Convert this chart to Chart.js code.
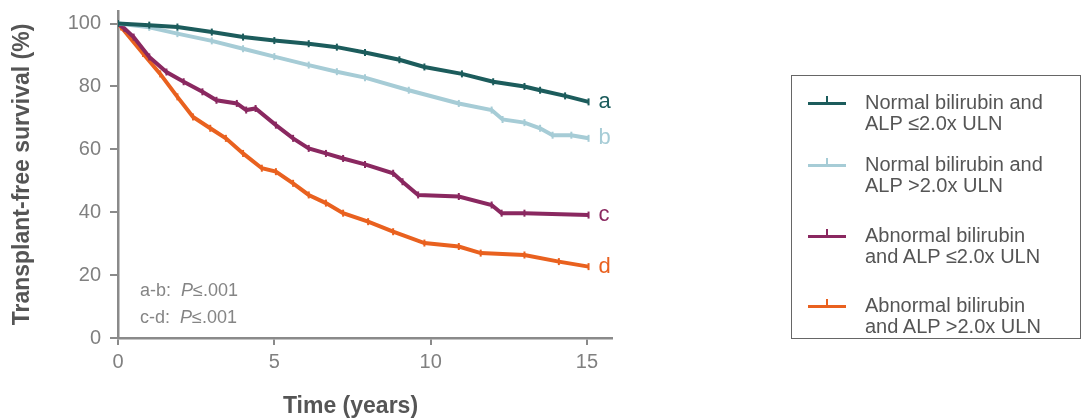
<!DOCTYPE html>
<html>
<head>
<meta charset="utf-8">
<title>Transplant-free survival</title>
<script src="https://cdn.jsdelivr.net/npm/chart.js@4.4.1/dist/chart.umd.min.js"></script>
<style>
    body { margin: 0; background: #fff; font-family: "Liberation Sans", Arial, sans-serif; }
    #wrap { position: relative; width: 1085px; height: 419px; }
    #pvals { position: absolute; left: 140px; top: 277px; font-size: 18px; color: #858585; line-height: 27px; }
    #legend { position: absolute; left: 791px; top: 75px; width: 290px; height: 264px; border: 1.5px solid #666; box-sizing: border-box; }
    .item { position: absolute; left: 73px; font-size: 20px; line-height: 21px; color: #555; }
    .icon { position: absolute; left: 16px; width: 38px; height: 3px; }
    .icon::after { content: ''; position: absolute; left: 18px; top: -6px; width: 2px; height: 7px; background: inherit; }
</style>
</head>
<body>
<div id="wrap">
    <canvas id="kmChart" width="1085" height="419"></canvas>
    <div id="pvals">a-b:&nbsp; <i>P</i>≤.001<br>c-d:&nbsp; <i>P</i>≤.001</div>
    <div id="legend"></div>
</div>
<script>
// Kaplan-Meier curves, values
const timesA = [0, 1, 1.9, 3, 4, 5, 6.1, 7, 7.9, 9, 9.8, 11, 12, 13, 13.5, 14.3, 15.05];
const survA  = [100, 99.5, 98.9, 97.3, 95.7, 94.6, 93.6, 92.5, 90.8, 88.5, 86.2, 84, 81.5, 80, 78.8, 77, 75.1];

const timesB = [0, 1, 1.9, 3, 4, 5, 6.1, 7, 7.9, 9.3, 10.9, 11.95, 12.3, 13, 13.5, 13.9, 14.5, 15.05];
const survB  = [100, 98.8, 96.8, 94.5, 92, 89.5, 86.8, 84.7, 82.8, 78.8, 74.6, 72.5, 69.5, 68.5, 66.7, 64.5, 64.5, 63.5];

const timesC = [0, 0.2, 0.5, 1, 1.55, 2.1, 2.7, 3.15, 3.8, 4.1, 4.4, 5.05, 5.6, 6.1, 6.65, 7.2, 7.9, 8.8, 9.1, 9.6, 10.9, 11.95, 12.27, 13, 15.05];
const survC  = [100, 98.5, 95.7, 89.4, 84.6, 81.5, 78.3, 75.6, 74.6, 72.5, 73, 67.7, 63.5, 60.3, 58.7, 57.1, 55.2, 52.4, 49.7, 45.5, 45, 42.3, 39.7, 39.7, 39.1];

const timesD = [0, 0.1, 0.8, 1.35, 1.9, 2.4, 2.95, 3.45, 4, 4.6, 5.05, 5.6, 6.1, 6.65, 7.2, 8, 8.8, 9.8, 10.9, 11.6, 13, 14.1, 15.05];
const survD  = [100, 98.9, 90.5, 84, 76.7, 70.3, 66.7, 63.5, 58.7, 54, 52.9, 49.2, 45.5, 42.9, 39.7, 37, 33.8, 30.2, 29.1, 27, 26.4, 24.3, 22.7];

const curveLetters = ['a', 'b', 'c', 'd'];
const legendLabels = [
    'Normal bilirubin and<br>ALP ≤2.0x ULN',
    'Normal bilirubin and<br>ALP >2.0x ULN',
    'Abnormal bilirubin<br>and ALP ≤2.0x ULN',
    'Abnormal bilirubin<br>and ALP >2.0x ULN'
];
const colors = ['#1c5c5c', '#a6ccd6', '#8a2860', '#e9611f'];
const xTicks = [0, 5, 10, 15];
const yTicks = [0, 20, 40, 60, 80, 100];
const xTitle = 'Time (years)';

const FONT = '"Liberation Sans", Arial, sans-serif';

function toPoints(times, surv) {
    return times.map((t, i) => ({ x: t, y: surv[i] }));
}

const allSeries = [
    toPoints(timesA, survA),
    toPoints(timesB, survB),
    toPoints(timesC, survC),
    toPoints(timesD, survD)
];

// letters a-d at the end of each curve, plus the x title centred under the 0-15 ticks
const extraText = {
    id: 'extraText',
    afterDatasetsDraw(chart) {
        const ctx = chart.ctx;
        const xs = chart.scales.x, ys = chart.scales.y;
        ctx.save();
        ctx.font = '22px ' + FONT;
        ctx.textBaseline = 'middle';
        allSeries.forEach((pts, i) => {
            const last = pts[pts.length - 1];
            ctx.fillStyle = colors[i];
            ctx.fillText(curveLetters[i], xs.getPixelForValue(last.x) + 10, ys.getPixelForValue(last.y));
        });
        ctx.font = 'bold 23px ' + FONT;
        ctx.fillStyle = '#555';
        ctx.textAlign = 'center';
        const mid = (xs.getPixelForValue(xTicks[0]) + xs.getPixelForValue(xTicks[xTicks.length - 1])) / 2;
        ctx.fillText(xTitle, mid - 2, chart.height - 12);
        ctx.restore();
    }
};

const ctx = document.getElementById('kmChart').getContext('2d');
new Chart(ctx, {
    type: 'line',
    data: {
        datasets: allSeries.map((pts, i) => ({
            label: curveLetters[i],
            data: pts,
            borderColor: colors[i],
            backgroundColor: colors[i],
            borderWidth: 4,
            tension: 0,
            pointStyle: 'line',
            rotation: 90,
            pointRadius: 3.5,
            pointBorderWidth: 2,
            fill: false
        }))
    },
    options: {
        responsive: false,
        animation: false,
        layout: { padding: { top: 11, right: 473, left: 0, bottom: 0 } },
        plugins: { legend: { display: false }, tooltip: { enabled: false } },
        scales: {
            x: {
                type: 'linear',
                min: 0,
                max: 15.8,
                afterBuildTicks: s => { s.ticks = xTicks.map(v => ({ value: v })); },
                afterFit: s => { s.height = 81; },
                border: { display: true, color: '#8a8a8a', width: 2.5 },
                grid: { display: true, drawOnChartArea: false, drawTicks: true, tickLength: 7, color: '#8a8a8a', lineWidth: 2 },
                ticks: { color: '#808080', font: { family: FONT, size: 20 }, padding: 5, maxRotation: 0 },
                title: { display: false }
            },
            y: {
                min: 0,
                max: 104,
                afterBuildTicks: s => { s.ticks = yTicks.map(v => ({ value: v })); },
                // fixed axis width, and no extra room above the top tick label
                afterFit: s => { s.width = 118; s.paddingTop = 0; },
                border: { display: true, color: '#8a8a8a', width: 2.5 },
                grid: { display: true, drawOnChartArea: false, drawTicks: true, tickLength: 8, color: '#8a8a8a', lineWidth: 2 },
                ticks: { color: '#808080', font: { family: FONT, size: 20 }, padding: 9 },
                title: { display: true, text: 'Transplant-free survival (%)', color: '#555', font: { family: FONT, size: 23, weight: 'bold', lineHeight: 1.2 }, padding: { top: 9, bottom: 9 } }
            }
        }
    },
    plugins: [extraText]
});

// legend box on the right
const legend = document.getElementById('legend');
const rowTops = [16, 78, 149, 219];
legendLabels.forEach((text, i) => {
    const icon = document.createElement('div');
    icon.className = 'icon';
    icon.style.background = colors[i];
    icon.style.top = (rowTops[i] + 10) + 'px';
    legend.appendChild(icon);
    const item = document.createElement('div');
    item.className = 'item';
    item.style.top = rowTops[i] + 'px';
    item.innerHTML = text;
    legend.appendChild(item);
});
</script>
</body>
</html>
